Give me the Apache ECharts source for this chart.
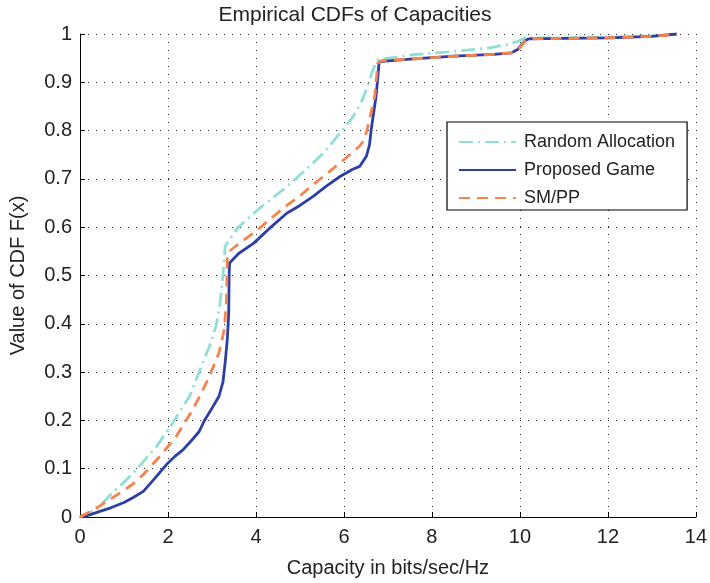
<!DOCTYPE html>
<html>
<head>
<meta charset="utf-8">
<title>Empirical CDFs of Capacities</title>
<script src="https://cdn.jsdelivr.net/npm/echarts@6/dist/echarts.min.js"></script>
<style>
  html, body { margin: 0; padding: 0; background: #fff; }
  #chart { width: 710px; height: 583px; }
</style>
</head>
<body>
<div id="chart"></div>
<script>
// Capacity (bits/sec/Hz) and empirical CDF value for each allocation scheme
const randomCapacity = [0, 0.3, 0.45, 0.68, 1.0, 1.28, 1.74, 2.11, 2.49, 2.79, 2.95, 3.09, 3.18, 3.25, 3.3, 3.39, 3.6, 3.95, 4.3, 4.7, 5.0, 5.3, 5.6, 5.91, 6.21, 6.4, 6.51, 6.66, 6.77, 7.56, 8.5, 9.29, 9.7, 9.96, 10.11, 11.0, 12.0, 13.0, 13.57];
const randomCdf      = [0, 0.012, 0.022, 0.045, 0.072, 0.098, 0.146, 0.195, 0.25, 0.319, 0.355, 0.395, 0.44, 0.5, 0.56, 0.574, 0.6, 0.629, 0.655, 0.684, 0.708, 0.733, 0.76, 0.795, 0.829, 0.86, 0.885, 0.926, 0.947, 0.957, 0.964, 0.971, 0.978, 0.985, 0.992, 0.992, 0.993, 0.996, 1.0];

const gameCapacity = [0.08, 0.4, 0.7, 1.0, 1.2, 1.44, 1.7, 1.96, 2.15, 2.34, 2.55, 2.71, 2.83, 3.0, 3.16, 3.25, 3.3, 3.35, 3.38, 3.39, 3.4, 3.6, 3.95, 4.3, 4.7, 5.0, 5.3, 5.6, 5.91, 6.2, 6.36, 6.51, 6.58, 6.62, 6.68, 6.73, 6.77, 6.8, 7.5, 8.5, 9.4, 9.81, 9.95, 10.04, 10.12, 10.2, 11.0, 12.0, 13.0, 13.57];
const gameCdf      = [0, 0.01, 0.019, 0.03, 0.04, 0.053, 0.08, 0.108, 0.125, 0.139, 0.16, 0.177, 0.2, 0.225, 0.25, 0.28, 0.32, 0.37, 0.42, 0.5, 0.526, 0.545, 0.567, 0.597, 0.629, 0.645, 0.664, 0.685, 0.705, 0.72, 0.726, 0.747, 0.77, 0.802, 0.84, 0.871, 0.91, 0.943, 0.948, 0.954, 0.958, 0.961, 0.968, 0.978, 0.986, 0.99, 0.991, 0.992, 0.995, 1.0];

const smppCapacity = [0, 0.4, 0.91, 1.2, 1.44, 1.81, 2.19, 2.56, 2.75, 2.94, 3.16, 3.28, 3.33, 3.35, 3.39, 3.7, 3.95, 4.3, 4.63, 5.0, 5.3, 5.6, 5.91, 6.13, 6.36, 6.45, 6.52, 6.58, 6.65, 6.7, 6.74, 6.77, 6.85, 7.5, 8.5, 9.4, 9.81, 9.95, 10.04, 10.12, 10.2, 11.0, 12.0, 13.0, 13.57];
const smppCdf      = [0, 0.02, 0.05, 0.068, 0.088, 0.125, 0.167, 0.222, 0.255, 0.291, 0.34, 0.388, 0.45, 0.54, 0.55, 0.572, 0.588, 0.615, 0.64, 0.665, 0.688, 0.71, 0.733, 0.75, 0.768, 0.78, 0.8, 0.823, 0.85, 0.871, 0.91, 0.94, 0.945, 0.948, 0.954, 0.958, 0.961, 0.968, 0.976, 0.985, 0.99, 0.991, 0.992, 0.995, 1.0];

const seriesNames = ['Random Allocation', 'Proposed Game', 'SM/PP'];
const yTickLabels = ['0', '0.1', '0.2', '0.3', '0.4', '0.5', '0.6', '0.7', '0.8', '0.9', '1'];

const pairs = (xs, ys) => xs.map((x, i) => [x, ys[i]]);

const FONT = '"Liberation Sans", Arial, sans-serif';
const TEXT = '#222';
const gridDots = { color: '#222', width: 1, type: [1, 7] };

const chart = echarts.init(document.getElementById('chart'), null, { renderer: 'canvas' });

chart.setOption({
  animation: false,
  backgroundColor: '#fff',
  textStyle: { fontFamily: FONT },
  title: {
    text: 'Empirical CDFs of Capacities',
    left: 'center',
    top: 0,
    textStyle: { fontFamily: FONT, fontSize: 21, fontWeight: 'normal', color: TEXT }
  },
  grid: { left: 78, right: 11, top: 34, bottom: 66, containLabel: false },
  legend: {
    orient: 'vertical',
    left: 447,
    top: 122,
    padding: [11, 12, 3, 11],
    itemGap: 10,
    itemWidth: 57,
    itemHeight: 18,
    backgroundColor: '#fff',
    borderColor: '#000',
    borderWidth: 1.2,
    borderRadius: 0,
    itemStyle: { opacity: 0 },
    textStyle: { fontFamily: FONT, fontSize: 18, color: TEXT, padding: [0, 0, 0, 3] },
    data: seriesNames
  },
  xAxis: {
    type: 'value',
    min: 0,
    max: 14,
    interval: 2,
    name: 'Capacity in bits/sec/Hz',
    nameLocation: 'middle',
    nameGap: 41,
    nameTextStyle: { fontFamily: FONT, fontSize: 20, color: TEXT },
    axisLine: { show: true, onZero: false, lineStyle: { color: '#000', width: 1 } },
    axisTick: { show: true, inside: true, length: 5, lineStyle: { color: '#000' } },
    axisLabel: { fontFamily: FONT, fontSize: 20, color: TEXT, margin: 10 },
    splitLine: { show: true, lineStyle: gridDots }
  },
  yAxis: {
    type: 'value',
    min: 0,
    max: 1,
    interval: 0.1,
    name: 'Value of CDF F(x)',
    nameLocation: 'middle',
    nameGap: 52,
    nameTextStyle: { fontFamily: FONT, fontSize: 20, color: TEXT },
    axisLine: { show: true, onZero: false, lineStyle: { color: '#000', width: 1 } },
    axisTick: { show: true, inside: true, length: 5, lineStyle: { color: '#000' } },
    axisLabel: {
      fontFamily: FONT, fontSize: 20, color: TEXT, margin: 8,
      formatter: (v) => yTickLabels[Math.round(v * 10)]
    },
    splitLine: { show: true, lineStyle: gridDots }
  },
  series: [
    {
      name: seriesNames[0],
      type: 'line',
      data: pairs(randomCapacity, randomCdf),
      symbol: 'none',
      z: 2,
      color: '#8fdfd6',
      lineStyle: { color: '#8fdfd6', width: 2.8, type: [14, 5, 2, 5] }
    },
    {
      name: seriesNames[1],
      type: 'line',
      data: pairs(gameCapacity, gameCdf),
      symbol: 'none',
      z: 3,
      color: '#2c3fa6',
      lineStyle: { color: '#2c3fa6', width: 2.8, type: 'solid' }
    },
    {
      name: seriesNames[2],
      type: 'line',
      data: pairs(smppCapacity, smppCdf),
      symbol: 'none',
      z: 4,
      color: '#f5844c',
      lineStyle: { color: '#f5844c', width: 2.8, type: [11, 7] }
    }
  ]
});
</script>
</body>
</html>
